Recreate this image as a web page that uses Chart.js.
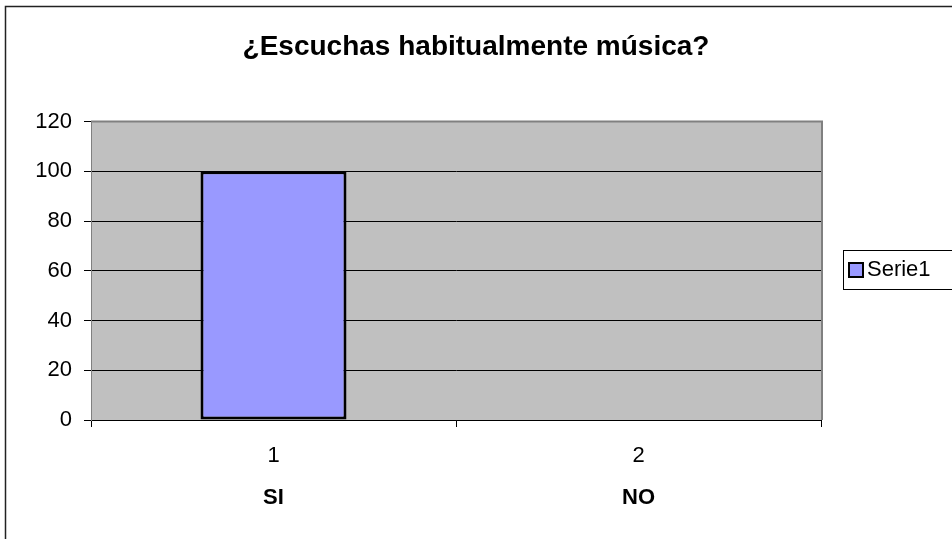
<!DOCTYPE html>
<html>
<head>
<meta charset="utf-8">
<script src="https://cdn.jsdelivr.net/npm/chart.js@4.4.1/dist/chart.umd.min.js"></script>
<style>
  html, body { margin: 0; padding: 0; background: #fff; }
  #wrap { width: 952px; height: 539px; }
</style>
</head>
<body>
<div id="wrap"><canvas id="chart"></canvas></div>
<script>
// chart data
const chartTitle = "¿Escuchas habitualmente música?";
const categories = ["1", "2"];
const answerLabels = ["SI", "NO"];
const seriesName = "Serie1";
const seriesValues = [100, 0];
const yTicks = [0, 20, 40, 60, 80, 100, 120];

const FONT = "'Liberation Sans', Arial, sans-serif";

// plot background, plot border, outer frame and the legend box
const excelLook = {
  id: "excelLook",
  beforeDraw(chart) {
    const { ctx, chartArea: a } = chart;
    ctx.save();
    ctx.fillStyle = "#C0C0C0";
    ctx.fillRect(a.left, a.top, a.right - a.left, a.bottom - a.top);
    ctx.restore();
  },
  afterDraw(chart) {
    const { ctx, chartArea: a } = chart;
    ctx.save();
    // plot border (top & right grey)
    ctx.strokeStyle = "#808080";
    ctx.lineWidth = 2;
    ctx.beginPath();
    ctx.moveTo(a.left, a.top);
    ctx.lineTo(a.right + 1, a.top);
    ctx.lineTo(a.right + 1, a.bottom);
    ctx.stroke();

    // outer frame
    ctx.strokeStyle = "#222";
    ctx.lineWidth = 1.5;
    ctx.strokeRect(5.5, 6.5, 1000, 600);

    // legend
    const ds = chart.data.datasets[0];
    ctx.fillStyle = "#fff";
    ctx.fillRect(843, 250, 200, 39);
    ctx.strokeStyle = "#000";
    ctx.lineWidth = 1;
    ctx.strokeRect(843.5, 250.5, 200, 39);
    ctx.fillStyle = ds.backgroundColor;
    ctx.fillRect(849, 263, 14, 14);
    ctx.lineWidth = 2;
    ctx.strokeRect(849, 263, 14, 14);
    ctx.fillStyle = "#000";
    ctx.font = "22px " + FONT;
    ctx.textBaseline = "middle";
    ctx.fillText(ds.label, 867, 270);
    ctx.restore();
  }
};

new Chart(document.getElementById("chart"), {
  type: "bar",
  data: {
    labels: categories,
    datasets: [{
      label: seriesName,
      data: seriesValues,
      backgroundColor: "#9999FF",
      borderColor: "#000",
      borderWidth: 3,
      borderSkipped: false,
      categoryPercentage: 1,
      barPercentage: 0.4
    }]
  },
  options: {
    responsive: true,
    maintainAspectRatio: false,
    animation: false,
    layout: { padding: 0 },
    plugins: {
      legend: { display: false },
      tooltip: { enabled: false },
      title: {
        display: true,
        text: chartTitle,
        color: "#000",
        font: { family: FONT, size: 28, weight: "bold" },
        padding: { top: 30, bottom: 58 }
      }
    },
    scales: {
      x: {
        offset: true,
        grid: { offset: true, drawOnChartArea: false, drawTicks: true, tickLength: 7, color: "#000" },
        border: { color: "#000", width: 1 },
        ticks: { color: "#000", padding: 16, font: { family: FONT, size: 22 } },
        afterFit(s) { s.height = 50; }
      },
      x2: {
        type: "category",
        position: "bottom",
        labels: answerLabels,
        offset: true,
        grid: { display: false, drawTicks: false },
        border: { display: false },
        ticks: { color: "#000", padding: 15, font: { family: FONT, size: 22, weight: "bold" } },
        afterFit(s) { s.height = 69; }
      },
      y: {
        min: 0,
        max: 120,
        afterBuildTicks(s) { s.ticks = yTicks.map(v => ({ value: v })); },
        grid: { color: "#000", lineWidth: 1, tickLength: 7 },
        border: { color: "#808080", width: 1 },
        ticks: { color: "#000", padding: 12, font: { family: FONT, size: 22 } },
        afterFit(s) { s.width = 91; }
      },
      // empty space on the right that holds the legend
      yR: {
        position: "right",
        ticks: { display: false },
        grid: { display: false },
        border: { display: false },
        afterFit(s) { s.width = 131; }
      }
    }
  },
  plugins: [excelLook]
});
</script>
</body>
</html>
